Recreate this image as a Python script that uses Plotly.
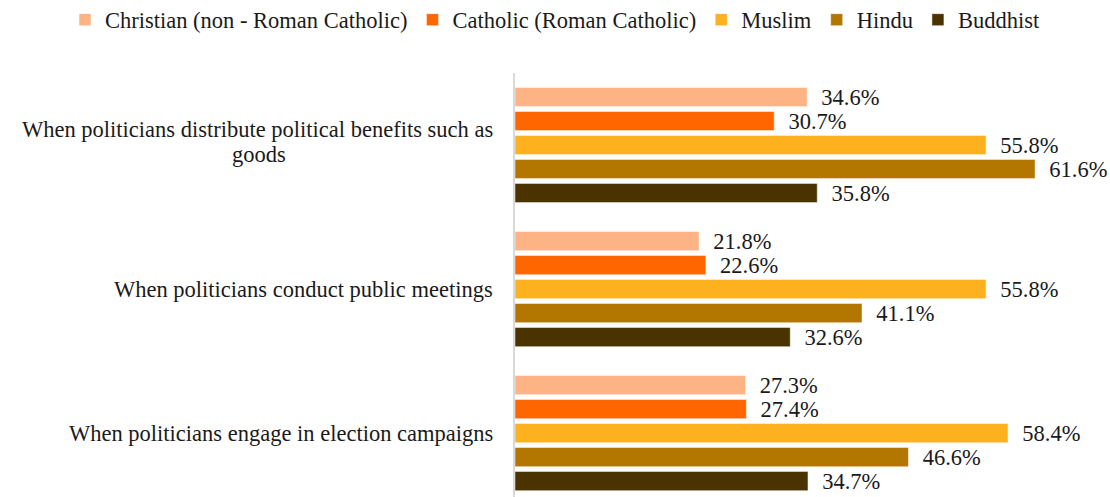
import plotly.graph_objects as go

# Survey categories (top to bottom) and share of respondents per religious group
categories = [
    "When politicians distribute political benefits such as<br>goods",
    "When politicians conduct public meetings",
    "When politicians engage in election campaigns",
]
series_names = [
    "Christian (non - Roman Catholic)",
    "Catholic (Roman Catholic)",
    "Muslim",
    "Hindu",
    "Buddhist",
]
christian = [34.6, 21.8, 27.3]
catholic = [30.7, 22.6, 27.4]
muslim = [55.8, 55.8, 58.4]
hindu = [61.6, 41.1, 46.6]
buddhist = [35.8, 32.6, 34.7]

series_values = [christian, catholic, muslim, hindu, buddhist]
colors = ["#FDB383", "#FF6600", "#FDB11F", "#B37700", "#4B3300"]

FONT = "'Liberation Serif', 'Times New Roman', Times, serif"
TEXT_COLOR = "#1a1a1a"
SIZE = 22.5
LINE_GAP = 25        # px between wrapped lines of a category label
LABEL_PAD = 20       # px between label block and the axis line
WRAP_CENTER_PX = 259 # horizontal centre of wrapped label blocks

W, H = 1110, 497
L, R, T, B = 515, 4, 73, 0
plot_w = W - L - R
plot_h = H - T - B

fig = go.Figure()
for name, vals, col in zip(series_names, series_values, colors):
    fig.add_trace(go.Bar(
        y=categories,
        x=vals,
        name=name,
        orientation="h",
        marker=dict(color=col, line=dict(color="rgba(255,255,255,0.6)", width=0.8)),
        texttemplate="\u00a0\u00a0%{x:.1f}%",
        textposition="outside",
        constraintext="none",
        textfont=dict(family=FONT, size=SIZE, color=TEXT_COLOR),
        cliponaxis=False,
    ))

# Category labels: each wrapped line is its own annotation so the line
# spacing stays tight; continuation lines are centred under the first line
for cat in categories:
    lines = cat.split("<br>")
    n = len(lines)
    extra = 3.5 if n > 1 else 0
    for i, line in enumerate(lines):
        shift = ((n - 1) / 2 - i) * LINE_GAP + extra
        if i == 0:
            fig.add_annotation(
                x=0, xref="paper", y=cat, yref="y",
                text=line, showarrow=False,
                xanchor="right", yanchor="middle",
                xshift=-LABEL_PAD, yshift=shift,
                font=dict(family=FONT, size=SIZE, color=TEXT_COLOR),
            )
        else:
            fig.add_annotation(
                x=(WRAP_CENTER_PX - L) / plot_w, xref="paper", y=cat, yref="y",
                text=line, showarrow=False,
                xanchor="center", yanchor="middle",
                yshift=shift,
                font=dict(family=FONT, size=SIZE, color=TEXT_COLOR),
            )

# Legend sits above the plot area, starting near the left edge of the page
fig.update_layout(
    width=W, height=H,
    margin=dict(l=L, r=R, t=T, b=B, autoexpand=False),
    paper_bgcolor="white", plot_bgcolor="white",
    barmode="group", bargap=0.1667, bargroupgap=0.2,
    font=dict(family=FONT, size=SIZE, color=TEXT_COLOR),
    legend=dict(
        orientation="h",
        x=(65 - L) / plot_w, y=(H - 20) / plot_h,
        xanchor="left", yanchor="middle",
        font=dict(family=FONT, size=SIZE, color=TEXT_COLOR),
        itemclick=False, traceorder="normal",
        bgcolor="rgba(0,0,0,0)",
    ),
    xaxis=dict(range=[0, 70], showgrid=False, zeroline=False,
               showticklabels=False, showline=False),
    yaxis=dict(type="category", range=[2.444, -0.5], showticklabels=False,
               showgrid=False, zeroline=False,
               showline=True, linecolor="#d9d9d9", linewidth=2),
)

fig.write_html("out.html")
